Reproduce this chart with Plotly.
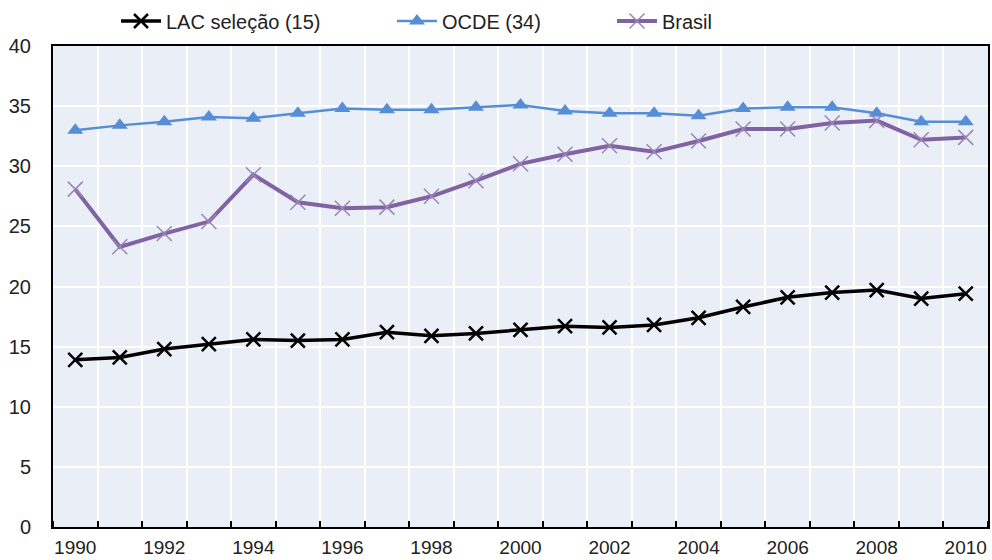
import plotly.graph_objects as go

years = list(range(1990, 2011))
lac = [13.9, 14.1, 14.8, 15.2, 15.6, 15.5, 15.6, 16.2, 15.9, 16.1, 16.4,
       16.7, 16.6, 16.8, 17.4, 18.3, 19.1, 19.5, 19.7, 19.0, 19.4]
ocde = [33.0, 33.4, 33.7, 34.1, 34.0, 34.4, 34.8, 34.7, 34.7, 34.9, 35.1,
        34.6, 34.4, 34.4, 34.2, 34.8, 34.9, 34.9, 34.4, 33.7, 33.7]
brasil = [28.1, 23.3, 24.4, 25.4, 29.3, 27.0, 26.5, 26.6, 27.5, 28.8, 30.2,
          31.0, 31.7, 31.2, 32.1, 33.1, 33.1, 33.6, 33.8, 32.2, 32.4]
names = ["LAC seleção (15)", "OCDE (34)", "Brasil"]
xtick_years = list(range(1990, 2011, 2))
ytick_vals = list(range(0, 41, 5))

FONT = "Liberation Sans, Arial, sans-serif"
BLACK = "#000000"
BLUE = "#558ed5"
PURPLE = "#8064a2"
PURPLE_M = "#9a84b8"

W, H = 992, 560

fig = go.Figure()
fig.add_trace(go.Scatter(
    x=years, y=ocde, name=names[1], mode="lines+markers",
    line=dict(color=BLUE, width=2.5),
    marker=dict(symbol="triangle-up", size=14, color=BLUE),
    legend="legend2"))
fig.add_trace(go.Scatter(
    x=years, y=brasil, name=names[2], mode="lines+markers",
    line=dict(color=PURPLE, width=4),
    marker=dict(symbol="x-thin", size=15, line=dict(color=PURPLE_M, width=1.5)),
    legend="legend3"))
fig.add_trace(go.Scatter(
    x=years, y=lac, name=names[0], mode="lines+markers",
    line=dict(color=BLACK, width=3.5),
    marker=dict(symbol="x-thin", size=14, line=dict(color=BLACK, width=2.5)),
    legend="legend"))

def lg(px):
    return dict(x=px / W, y=1 - 21 / H, xref="container", yref="container",
                xanchor="left", yanchor="middle",
                orientation="h", bgcolor="rgba(0,0,0,0)",
                font=dict(family=FONT, size=20, color="#222"),
                itemwidth=40, tracegroupgap=0)

fig.update_layout(
    width=W, height=H,
    margin=dict(l=53, r=4, t=46, b=33, pad=0),
    paper_bgcolor="white",
    plot_bgcolor="#eaeef6",
    font=dict(family=FONT, size=20, color="#222"),
    showlegend=True,
    legend=lg(116),
    legend2=lg(392),
    legend3=lg(612),
    xaxis=dict(
        range=[1989.5, 2010.5], automargin=False,
        tickmode="array", tickvals=xtick_years,
        ticks="", showgrid=False, zeroline=False,
        showline=True, linecolor="black", linewidth=1.5, mirror=True,
        ticklabelstandoff=2,
        tickfont=dict(family=FONT, size=19, color="#222"),
        minor=dict(tickmode="linear", tick0=1990.5, dtick=1,
                   ticks="inside", ticklen=6, tickcolor="black", tickwidth=1.5,
                   showgrid=True, gridcolor="white", gridwidth=1.5),
    ),
    yaxis=dict(
        range=[0, 40], automargin=False, tickmode="array", tickvals=ytick_vals,
        showgrid=True, gridcolor="white", gridwidth=1.5,
        zeroline=False, ticks="",
        showline=True, linecolor="black", linewidth=2, mirror=True,
        ticklabelstandoff=16,
        tickfont=dict(family=FONT, size=20, color="#222"),
    ),
)

fig.write_html("out.html",
               config={"displayModeBar": False},
               post_script="document.body.style.margin='0';document.body.style.overflow='hidden';")
